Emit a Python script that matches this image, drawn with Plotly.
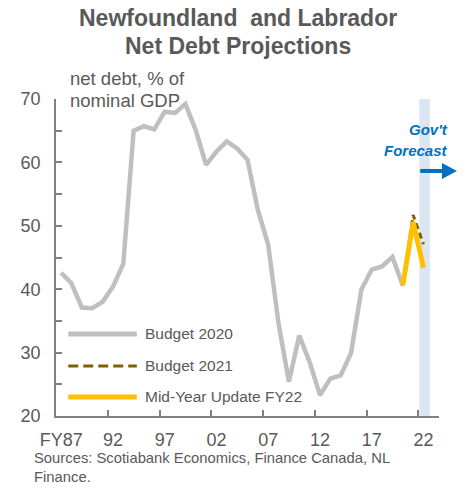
import plotly.graph_objects as go

# ---------------- data ----------------
years_b2020 = list(range(1987, 2021))
budget_2020 = [42.6, 40.9, 37.1, 37.0, 38.0, 40.4, 44.0, 65.0, 65.7, 65.2,
               68.0, 67.8, 69.2, 65.1, 59.6, 61.7, 63.3, 62.2, 60.4, 52.5,
               47.0, 34.6, 25.4, 32.7, 28.5, 23.3, 25.9, 26.4, 29.9, 39.9,
               43.1, 43.6, 45.1, 40.6]

years_b2021 = [2020, 2021, 2022]
budget_2021 = [40.6, 51.7, 47.1]

years_myu = [2020, 2021, 2022]
mid_year_fy22 = [40.6, 50.6, 43.4]

forecast_band = [2021.6, 2022.62]

tick_years = [1987, 1992, 1997, 2002, 2007, 2012, 2017, 2022]
tick_labels = ["FY87", "92", "97", "02", "07", "12", "17", "22"]
minor_tick_years = [1991.5, 1996.5, 2001.5, 2006.5, 2011.5, 2016.5, 2021.5]

series_names = ["Budget 2020", "Budget 2021", "Mid-Year Update FY22"]

# ---------------- style ----------------
FONT = "Liberation Sans, Arial, sans-serif"
TXT = "#595959"
AXIS = "#808080"
GRAY = "#BFBFBF"
BROWN = "#7F6000"
GOLD = "#FFC000"
BLUE = "#0070C0"
BAND = "#DCE6F2"

fig = go.Figure()

fig.add_trace(go.Scatter(x=years_b2020, y=budget_2020, mode="lines",
                         line=dict(color=GRAY, width=4.5), name=series_names[0],
                         showlegend=False))
fig.add_trace(go.Scatter(x=years_b2021, y=budget_2021, mode="lines",
                         line=dict(color=BROWN, width=3, dash="6px,4px"),
                         name=series_names[1], showlegend=False))
fig.add_trace(go.Scatter(x=years_myu, y=mid_year_fy22, mode="lines",
                         line=dict(color=GOLD, width=5), name=series_names[2],
                         showlegend=False))

# forecast band
fig.add_shape(type="rect", xref="x", yref="y", x0=forecast_band[0], x1=forecast_band[1],
              y0=20, y1=70, fillcolor=BAND, line=dict(width=0), layer="below")

# manual legend
leg_y = [0.259, 0.158, 0.060]
leg_styles = [dict(color=GRAY, width=5), dict(color=BROWN, width=3, dash="10px,5px"),
              dict(color=GOLD, width=5)]
for yy, st, nm in zip(leg_y, leg_styles, series_names):
    fig.add_shape(type="line", xref="paper", yref="paper", x0=0.032, x1=0.211,
                  y0=yy, y1=yy, line=st)
    fig.add_annotation(xref="paper", yref="paper", x=0.228, y=yy, text=nm,
                       showarrow=False, xanchor="left", yanchor="middle",
                       font=dict(family=FONT, size=15.5, color=TXT))

# forecast arrow
fig.add_shape(type="line", xref="paper", yref="paper", x0=0.951, x1=1.012,
              y0=0.773, y1=0.773, line=dict(color=BLUE, width=4))
fig.add_shape(type="path", xref="paper", yref="paper",
              path="M 1.0078 0.7984 L 1.0469 0.7731 L 1.0078 0.7479 Z",
              fillcolor=BLUE, line=dict(width=0))
fig.add_annotation(xref="paper", yref="paper", x=1.029, y=0.905, text="<b><i>Gov't</i></b>",
                   showarrow=False, xanchor="right", yanchor="middle",
                   font=dict(family=FONT, size=15, color=BLUE))
fig.add_annotation(xref="paper", yref="paper", x=1.029, y=0.836, text="<b><i>Forecast</i></b>",
                   showarrow=False, xanchor="right", yanchor="middle",
                   font=dict(family=FONT, size=15, color=BLUE))

# title
fig.add_annotation(xref="paper", yref="paper", x=0.474, y=1.255,
                   text="<b>Newfoundland\u00a0 and Labrador</b>", showarrow=False,
                   xanchor="center", yanchor="middle",
                   font=dict(family=FONT, size=23, color=TXT))
fig.add_annotation(xref="paper", yref="paper", x=0.474, y=1.168,
                   text="<b>Net Debt Projections</b>", showarrow=False,
                   xanchor="center", yanchor="middle",
                   font=dict(family=FONT, size=23, color=TXT))

# y-axis title
fig.add_annotation(xref="paper", yref="paper", x=0.031, y=1.066, text="net debt, % of",
                   showarrow=False, xanchor="left", yanchor="middle",
                   font=dict(family=FONT, size=18.5, color=TXT))
fig.add_annotation(xref="paper", yref="paper", x=0.031, y=0.994, text="nominal GDP",
                   showarrow=False, xanchor="left", yanchor="middle",
                   font=dict(family=FONT, size=18.5, color=TXT))

# source
fig.add_annotation(xref="paper", yref="paper", x=-0.063, y=-0.163,
                   text="Sources: Scotiabank Economics, Finance Canada, NL<br>Finance.",
                   showarrow=False, xanchor="left", yanchor="middle", align="left",
                   font=dict(family=FONT, size=14.8, color=TXT))

fig.update_layout(
    width=466, height=498,
    margin=dict(l=56, r=27, t=99, b=82),
    paper_bgcolor="white", plot_bgcolor="white",
    showlegend=False,
    font=dict(family=FONT, color=TXT),
)
fig.update_xaxes(range=[1986.5, 2023.5], showgrid=False, zeroline=False,
                 showline=True, linecolor=AXIS, linewidth=1.5,
                 tickmode="array", tickvals=tick_years, ticktext=tick_labels,
                 ticks="", tickfont=dict(family=FONT, size=18, color=TXT),
                 ticklabelstandoff=7,
                 minor=dict(tickmode="array", tickvals=minor_tick_years, ticks="inside",
                            ticklen=6, tickcolor=AXIS, tickwidth=1.5, showgrid=False))
fig.update_yaxes(range=[20, 70], showgrid=False, zeroline=False,
                 showline=True, linecolor=AXIS, linewidth=1.5,
                 tickmode="array", tickvals=[20, 30, 40, 50, 60, 70],
                 ticks="inside", ticklen=6, tickcolor=AXIS, tickwidth=1.5,
                 tickfont=dict(family=FONT, size=18, color=TXT),
                 ticklabelstandoff=10,
                 minor=dict(tickmode="array", tickvals=[25, 35, 45, 55, 65], ticks="inside",
                            ticklen=6, tickcolor=AXIS, tickwidth=1.5, showgrid=False))

fig.write_html("out.html",
               config={"displayModeBar": False},
               post_script="document.body.style.margin='0';document.body.style.overflow='hidden';")
